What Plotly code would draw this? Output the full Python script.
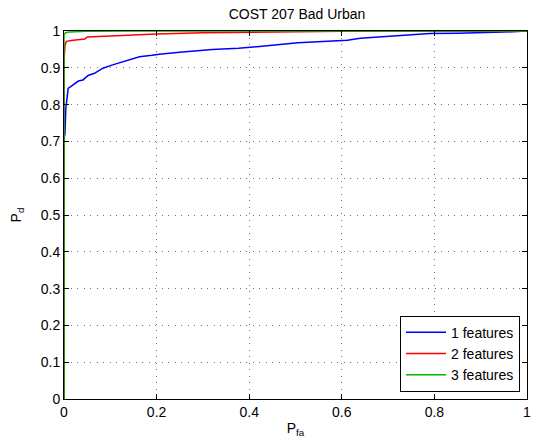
import plotly.graph_objects as go

title = "COST 207 Bad Urban"
series_names = ["1 features", "2 features", "3 features"]

pfa_1 = [0, 0, 0.002, 0.004, 0.009, 0.02, 0.031, 0.041, 0.052, 0.066, 0.084, 0.105, 0.127, 0.145,
         0.163, 0.19, 0.206, 0.25, 0.29, 0.32, 0.377, 0.398, 0.45, 0.505, 0.55, 0.612, 0.64, 0.7,
         0.79, 0.85, 0.9, 0.95, 1.0]
pd_1 = [0, 0.71, 0.72, 0.79, 0.844, 0.853, 0.864, 0.867, 0.879, 0.885, 0.899, 0.908, 0.917, 0.924,
        0.930, 0.934, 0.937, 0.942, 0.946, 0.950, 0.953, 0.955, 0.961, 0.968, 0.971, 0.975, 0.98, 0.985,
        0.993, 0.994, 0.995, 0.997, 1.0]

pfa_2 = [0, 0, 0.002, 0.005, 0.02, 0.045, 0.05, 0.1, 0.127, 0.2, 0.3, 0.4, 0.5, 0.6, 0.8, 1.0]
pd_2 = [0, 0.92, 0.96, 0.972, 0.975, 0.978, 0.984, 0.987, 0.989, 0.992, 0.995, 0.997, 0.998, 0.999, 1.0, 1.0]

pfa_3 = [0, 0, 0.003, 0.01, 0.05, 0.15, 1.0]
pd_3 = [0, 0.99, 0.995, 0.997, 0.999, 1.0, 1.0]

colors = ["#0000ff", "#ff0000", "#00b400"]

x_ticks = [0, 0.2, 0.4, 0.6, 0.8, 1]
x_tick_labels = ["0", "0.2", "0.4", "0.6", "0.8", "1"]
y_ticks = [0, 0.1, 0.2, 0.3, 0.4, 0.5, 0.6, 0.7, 0.8, 0.9, 1]
y_tick_labels = ["0", "0.1", "0.2", "0.3", "0.4", "0.5", "0.6", "0.7", "0.8", "0.9", "1"]

fig = go.Figure()
for xs, ys, name, c in zip([pfa_1, pfa_2, pfa_3], [pd_1, pd_2, pd_3], series_names, colors):
    fig.add_trace(go.Scatter(x=xs, y=ys, mode="lines", name=name,
                             line=dict(color=c, width=1.5)))

font = "Liberation Sans, Arial, Helvetica, sans-serif"
axis_common = dict(
    showline=True, linecolor="black", linewidth=1, mirror="ticks",
    ticks="inside", ticklen=5, tickcolor="black",
    showgrid=True, gridcolor="rgba(0,0,0,0.55)", griddash="1px,5.5px", gridwidth=1,
    zeroline=False, tickfont=dict(family=font, size=14, color="black"),
)

fig.update_layout(
    width=540, height=446,
    margin=dict(l=64, r=9, t=31, b=47),
    paper_bgcolor="white", plot_bgcolor="white",
    title=dict(text=title, x=0.55, xanchor="center", y=0.98, yanchor="top",
               font=dict(family=font, size=14, color="black")),
    font=dict(family=font, size=14, color="black"),
    xaxis=dict(range=[0, 1], tickvals=x_ticks, ticktext=x_tick_labels,
               title=dict(text="P<sub>fa</sub>", standoff=4,
                          font=dict(family=font, size=14, color="black")),
               **axis_common),
    yaxis=dict(range=[0, 1], tickvals=y_ticks, ticktext=y_tick_labels,
               title=dict(text="P<sub>d</sub>", standoff=15,
                          font=dict(family=font, size=14, color="black")),
               **axis_common),
    legend=dict(x=0.985, xanchor="right", y=0.02, yanchor="bottom",
                bgcolor="white", bordercolor="black", borderwidth=1,
                font=dict(family=font, size=14, color="black"),
                tracegroupgap=0, itemwidth=40),
    showlegend=True,
)

fig.write_html("out.html")
